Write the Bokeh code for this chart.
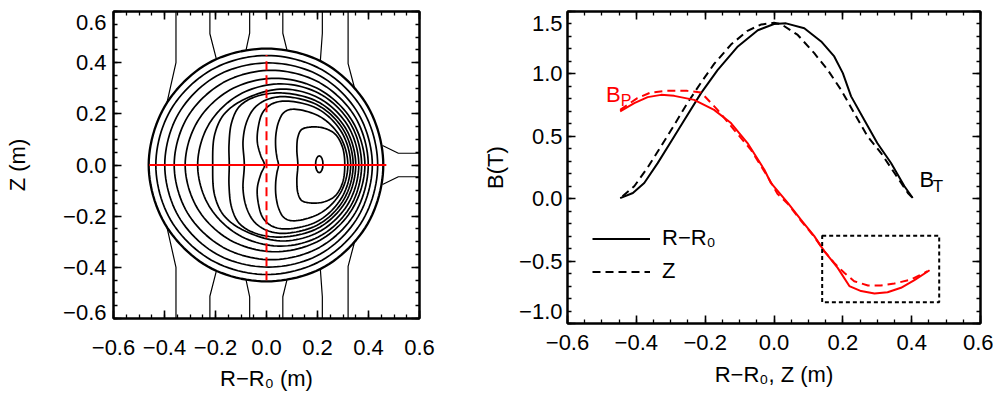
import numpy as np
from bokeh.plotting import figure
from bokeh.models import (LinearAxis, FixedTicker, Legend, LegendItem, CustomJSTickFormatter)
from bokeh.layouts import row
from bokeh.embed import file_html
from bokeh.resources import INLINE
from bokeh.core.properties import value

# ---------------- data: left panel (flux-surface contours, upper halves; mirrored in z) ----------------
contour_x = [
    [0.458, 0.397, 0.229, 0.0, -0.230, -0.399, -0.462],
    [0.436, 0.378, 0.218, 0.0, -0.216, -0.376, -0.434],
    [0.415, 0.360, 0.211, 0.008, -0.196, -0.345, -0.399],
    [0.399, 0.348, 0.208, 0.018, -0.170, -0.310, -0.362],
    [0.386, 0.337, 0.210, 0.034, -0.142, -0.270, -0.319],
    [0.373, 0.331, 0.215, 0.056, -0.107, -0.226, -0.270],
    [0.362, 0.322, 0.2135, 0.065, -0.080, -0.165, -0.203, -0.211],
    [0.350, 0.312, 0.209, 0.069, -0.040, -0.107, -0.137, -0.147, -0.146],
    [0.340, 0.304, 0.2065, 0.073, 0.0, -0.048, -0.078, -0.092, -0.087],
    [0.330, 0.296, 0.204, 0.078, 0.020, -0.015, -0.032, -0.036, -0.022, -0.008],
    [0.319, 0.290, 0.210, 0.101, 0.068, 0.048, 0.037, 0.036, 0.041, 0.047],
    [0.307, 0.298, 0.268, 0.222, 0.169, 0.137, 0.123, 0.119, 0.123],
]
contour_z = [
    [0.0, 0.229, 0.397, 0.455, 0.397, 0.229, 0.0],
    [0.0, 0.215, 0.372, 0.428, 0.372, 0.215, 0.0],
    [0.0, 0.201, 0.348, 0.399, 0.348, 0.201, 0.0],
    [0.0, 0.187, 0.322, 0.370, 0.322, 0.187, 0.0],
    [0.0, 0.171, 0.294, 0.339, 0.294, 0.171, 0.0],
    [0.0, 0.159, 0.275, 0.317, 0.275, 0.159, 0.0],
    [0.0, 0.1485, 0.257, 0.297, 0.260, 0.200, 0.120, 0.0],
    [0.0, 0.1405, 0.243, 0.281, 0.268, 0.228, 0.165, 0.080, 0.0],
    [0.0, 0.1335, 0.231, 0.267, 0.255, 0.222, 0.168, 0.095, 0.0],
    [0.0, 0.126, 0.218, 0.250, 0.238, 0.205, 0.150, 0.090, 0.035, 0.0],
    [0.0, 0.109, 0.189, 0.218, 0.205, 0.170, 0.120, 0.070, 0.030, 0.0],
    [0.0, 0.070, 0.122, 0.145, 0.148, 0.138, 0.109, 0.060, 0.0],
]
# magnetic axis (innermost small closed contour)
axis_x, axis_z, axis_w, axis_h = [0.207], [0.003], [0.029], [0.066]

# open field lines outside the plasma (upper halves; mirrored in z)
open_x = [
    [-0.355, -0.355, -0.390],
    [-0.222, -0.222, -0.196],
    [-0.066, -0.066, -0.080],
    [0.064, 0.064, 0.080],
    [0.219, 0.219, 0.211],
    [0.320, 0.320, 0.346],
    [0.455, 0.517, 0.600],
]
open_z = [
    [0.60, 0.400, 0.245],
    [0.60, 0.513, 0.412],
    [0.60, 0.515, 0.450],
    [0.60, 0.515, 0.450],
    [0.60, 0.515, 0.405],
    [0.60, 0.396, 0.298],
    [0.076, 0.046, 0.046],
]

# red chords
chord_r = [-0.46, 0.47]
chord_z = [-0.45, 0.43]

# ---------------- data: right panel ----------------
bt_r_x = [-0.447, -0.41, -0.377, -0.338, -0.299, -0.26, -0.212, -0.164, -0.105, -0.047, 0.0, 0.035,
          0.088, 0.137, 0.175, 0.20, 0.224, 0.262, 0.30, 0.34, 0.379, 0.403]
bt_r_y = [0.005, 0.046, 0.126, 0.285, 0.459, 0.632, 0.846, 1.03, 1.22, 1.35, 1.40, 1.405,
          1.366, 1.26, 1.14, 1.006, 0.82, 0.632, 0.446, 0.286, 0.10, 0.006]

bt_z_x = [-0.44, -0.406, -0.367, -0.328, -0.29, -0.252, -0.212, -0.174, -0.125, -0.077, -0.038, 0.0,
          0.02, 0.069, 0.117, 0.156, 0.195, 0.233, 0.272, 0.311, 0.35, 0.389, 0.408]
bt_z_y = [0.019, 0.10, 0.25, 0.42, 0.59, 0.765, 0.93, 1.08, 1.235, 1.345, 1.395, 1.41,
          1.40, 1.312, 1.166, 1.032, 0.872, 0.686, 0.499, 0.366, 0.206, 0.046, -0.008]

bp_r_x = [-0.447, -0.406, -0.367, -0.328, -0.29, -0.232, -0.174, -0.125, -0.077, -0.028, -0.009, 0.04,
          0.078, 0.117, 0.146, 0.185, 0.219, 0.253, 0.292, 0.33, 0.369, 0.408, 0.452]
bp_r_y = [0.70, 0.766, 0.814, 0.832, 0.824, 0.792, 0.712, 0.606, 0.446, 0.232, 0.126, -0.034,
          -0.168, -0.30, -0.42, -0.554, -0.70, -0.74, -0.76, -0.749, -0.714, -0.653, -0.573]

bp_z_x = [-0.447, -0.397, -0.358, -0.31, -0.252, -0.212, -0.164, -0.116, -0.067, -0.019, 0.01, 0.04,
          0.078, 0.117, 0.146, 0.175, 0.204, 0.233, 0.273, 0.311, 0.35, 0.398, 0.446]
bp_z_y = [0.712, 0.806, 0.851, 0.864, 0.864, 0.851, 0.712, 0.552, 0.392, 0.179, 0.04, -0.04,
          -0.175, -0.305, -0.42, -0.514, -0.594, -0.661, -0.696, -0.696, -0.68, -0.648, -0.581]

# highlighted region (dotted box)
box_x = [0.14, 0.48]
box_y = [-0.83, -0.296]

# tick values / labels
lx_ticks = [-0.6, -0.4, -0.2, 0.0, 0.2, 0.4, 0.6]
lx_labels = ["\u22120.6", "\u22120.4", "\u22120.2", "0.0", "0.2", "0.4", "0.6"]
ly_ticks = [-0.6, -0.4, -0.2, 0.0, 0.2, 0.4, 0.6]
ly_labels = ["\u22120.6", "\u22120.4", "\u22120.2", "0.0", "0.2", "0.4", "0.6"]
rx_ticks = [-0.6, -0.4, -0.2, 0.0, 0.2, 0.4, 0.6]
rx_labels = ["\u22120.6", "\u22120.4", "\u22120.2", "0.0", "0.2", "0.4", "0.6"]
ry_ticks = [-1.0, -0.5, 0.0, 0.5, 1.0, 1.5]
ry_labels = ["\u22121.0", "\u22120.5", "0.0", "0.5", "1.0", "1.5"]

# where the y tick labels sit (the end labels are nudged inside the frame, as in the original)
ly_label_pos = [-0.5765, -0.4, -0.2, 0.0, 0.2, 0.4, 0.557]
ry_label_pos = [-0.904, -0.5, 0.0, 0.5, 1.0, 1.404]

FONT = "Liberation Sans"
FS = "22px"


def smooth_closed(xs, zs, n=12):
    """centripetal Catmull-Rom through the closed (mirrored) control polygon"""
    up = list(zip(xs, zs))
    lo = [(x, -z) for (x, z) in reversed(up[1:-1])]
    P = np.array(up + lo, dtype=float)
    N = len(P)
    out = []
    for i in range(N):
        p0, p1, p2, p3 = P[(i - 1) % N], P[i], P[(i + 1) % N], P[(i + 2) % N]

        def tj(ti, a, b):
            return ti + max(np.hypot(*(b - a)), 1e-9) ** 0.5
        t0 = 0.0
        t1 = tj(t0, p0, p1)
        t2 = tj(t1, p1, p2)
        t3 = tj(t2, p2, p3)
        ts = np.linspace(t1, t2, n, endpoint=False)[:, None]
        A1 = (t1 - ts) / (t1 - t0) * p0 + (ts - t0) / (t1 - t0) * p1
        A2 = (t2 - ts) / (t2 - t1) * p1 + (ts - t1) / (t2 - t1) * p2
        A3 = (t3 - ts) / (t3 - t2) * p2 + (ts - t2) / (t3 - t2) * p3
        B1 = (t2 - ts) / (t2 - t0) * A1 + (ts - t0) / (t2 - t0) * A2
        B2 = (t3 - ts) / (t3 - t1) * A2 + (ts - t1) / (t3 - t1) * A3
        C = (t2 - ts) / (t2 - t1) * B1 + (ts - t1) / (t2 - t1) * B2
        out.extend(C.tolist())
    out.append(out[0])
    arr = np.array(out)
    return arr[:, 0].tolist(), arr[:, 1].tolist()


def tick_formatter(ticks, labels):
    return CustomJSTickFormatter(args=dict(tv=ticks, tl=labels), code="""
        for (let i = 0; i < tv.length; i++) { if (Math.abs(tv[i] - tick) < 1e-6) return tl[i]; }
        return "";
    """)


def blank_formatter():
    return CustomJSTickFormatter(code="return '';")


def style_axis(ax, ticks, minor, labels=None, label_standoff=5):
    ax.ticker = FixedTicker(ticks=ticks, minor_ticks=minor)
    ax.major_tick_in = 8
    ax.major_tick_out = 0
    ax.minor_tick_in = 4
    ax.minor_tick_out = 0
    ax.axis_line_width = 2
    ax.axis_line_color = "black"
    ax.major_tick_line_width = 1.6
    ax.minor_tick_line_width = 1.3
    ax.major_tick_line_color = "black"
    ax.minor_tick_line_color = "black"
    if labels is None:
        ax.formatter = blank_formatter()
        ax.major_label_text_color = None
        ax.major_label_standoff = 0
    else:
        ax.formatter = tick_formatter(ticks, labels)
        ax.major_label_text_font = FONT
        ax.major_label_text_font_size = FS
        ax.major_label_text_color = "black"
        ax.major_label_standoff = label_standoff
    ax.axis_label_text_font = FONT
    ax.axis_label_text_font_size = FS
    ax.axis_label_text_font_style = "normal"
    ax.axis_label_text_color = "black"


def label_only_axis(pos, labels, standoff, title, title_standoff):
    ax = LinearAxis(ticker=FixedTicker(ticks=pos), formatter=tick_formatter(pos, labels))
    ax.axis_line_color = None
    ax.major_tick_line_color = None
    ax.minor_tick_line_color = None
    ax.major_tick_in = 0
    ax.major_tick_out = 0
    ax.minor_tick_in = 0
    ax.minor_tick_out = 0
    ax.major_label_text_font = FONT
    ax.major_label_text_font_size = FS
    ax.major_label_text_color = "black"
    ax.major_label_standoff = standoff
    ax.axis_label = title
    ax.axis_label_standoff = title_standoff
    ax.axis_label_text_font = FONT
    ax.axis_label_text_font_size = FS
    ax.axis_label_text_font_style = "normal"
    ax.axis_label_text_color = "black"
    return ax


def minor_list(lo, hi, step):
    k = int(round((hi - lo) / step))
    return [round(lo + step * i, 4) for i in range(k + 1)]


# ---------------- left panel ----------------
p1 = figure(frame_width=306, frame_height=307, x_range=(-0.6, 0.6), y_range=(-0.6, 0.6),
            output_backend="svg", toolbar_location=None, y_axis_location=None,
            min_border_left=113, min_border_right=51, min_border_top=11, min_border_bottom=75)
p1.grid.visible = False
p1.outline_line_color = "black"
p1.outline_line_width = 2
p1.background_fill_color = "white"
p1.border_fill_color = "white"

style_axis(p1.xaxis[0], lx_ticks, minor_list(-0.6, 0.6, 0.05), lx_labels, 21)
p1.xaxis[0].axis_label = "R\u2212R\u2080 (m)"
p1.xaxis[0].axis_label_standoff = 8

ax_l = LinearAxis()
style_axis(ax_l, ly_ticks, minor_list(-0.6, 0.6, 0.05))
p1.add_layout(ax_l, "left")
p1.add_layout(label_only_axis(ly_label_pos, ly_labels, 7, "Z (m)", 30), "left")

ax_r = LinearAxis()
style_axis(ax_r, ly_ticks, minor_list(-0.6, 0.6, 0.05))
p1.add_layout(ax_r, "right")
ax_t = LinearAxis()
style_axis(ax_t, lx_ticks, minor_list(-0.6, 0.6, 0.05))
p1.add_layout(ax_t, "above")

# open field lines (upper and mirrored lower)
ox = [list(a) for a in open_x] + [list(a) for a in open_x]
oz = [list(a) for a in open_z] + [[-v for v in a] for a in open_z]
p1.multi_line(ox, oz, line_color="black", line_width=1.2)

# closed flux surfaces
cxs, czs = [], []
for xs, zs in zip(contour_x, contour_z):
    sx, sz = smooth_closed(xs, zs)
    cxs.append(sx)
    czs.append(sz)
p1.multi_line(cxs[1:], czs[1:], line_color="black", line_width=1.7)
p1.line(cxs[0], czs[0], line_color="black", line_width=2.3)
p1.ellipse(x=axis_x, y=axis_z, width=axis_w, height=axis_h, fill_alpha=0,
           line_color="black", line_width=1.7)

# chords
p1.line(chord_r, [0, 0], line_color="red", line_width=2)
p1.line([0, 0], chord_z, line_color="red", line_width=2, line_dash="9 5")

# ---------------- right panel ----------------
p2 = figure(frame_width=413, frame_height=312, x_range=(-0.6, 0.6), y_range=(-1.0, 1.5),
            output_backend="svg", toolbar_location=None, y_axis_location=None,
            min_border_left=97, min_border_right=13, min_border_top=8, min_border_bottom=73)
p2.grid.visible = False
p2.outline_line_color = "black"
p2.outline_line_width = 2
p2.background_fill_color = "white"
p2.border_fill_color = "white"

style_axis(p2.xaxis[0], rx_ticks, minor_list(-0.6, 0.6, 0.05), rx_labels, 11)
p2.xaxis[0].axis_label = "R\u2212R\u2080, Z (m)"
p2.xaxis[0].axis_label_standoff = 9

ax_l2 = LinearAxis()
style_axis(ax_l2, ry_ticks, minor_list(-1.0, 1.5, 0.1))
p2.add_layout(ax_l2, "left")
p2.add_layout(label_only_axis(ry_label_pos, ry_labels, 5, "B(T)", 8), "left")

ax_r2 = LinearAxis()
style_axis(ax_r2, ry_ticks, minor_list(-1.0, 1.5, 0.1))
p2.add_layout(ax_r2, "right")
ax_t2 = LinearAxis()
style_axis(ax_t2, rx_ticks, minor_list(-0.6, 0.6, 0.05))
p2.add_layout(ax_t2, "above")

r_bt_r = p2.line(bt_r_x, bt_r_y, line_color="black", line_width=2)
r_bt_z = p2.line(bt_z_x, bt_z_y, line_color="black", line_width=2, line_dash="8 5")
p2.line(bp_r_x, bp_r_y, line_color="red", line_width=2)
p2.line(bp_z_x, bp_z_y, line_color="red", line_width=2, line_dash="8 5")

p2.quad(left=[box_x[0]], right=[box_x[1]], bottom=[box_y[0]], top=[box_y[1]],
        fill_alpha=0, line_color="black", line_width=2, line_dash="4 3")

# curve labels B_P and B_T
p2.text(x=[-0.488], y=[0.838], text=["B"], text_color="red", text_font=value(FONT),
        text_font_size=value("22px"), text_baseline="alphabetic", text_align="left")
p2.text(x=[-0.445], y=[0.79], text=["P"], text_color="red", text_font=value(FONT),
        text_font_size=value("16px"), text_baseline="alphabetic", text_align="left")
p2.text(x=[0.4225], y=[0.152], text=["B"], text_color="black", text_font=value(FONT),
        text_font_size=value("22px"), text_baseline="alphabetic", text_align="left")
p2.text(x=[0.461], y=[0.095], text=["T"], text_color="black", text_font=value(FONT),
        text_font_size=value("17px"), text_baseline="alphabetic", text_align="left")

legend = Legend(items=[LegendItem(label="R\u2212R\u2080", renderers=[r_bt_r]),
                       LegendItem(label="Z", renderers=[r_bt_z])],
                location=(25, 39), orientation="vertical")
legend.border_line_alpha = 0
legend.background_fill_alpha = 0
legend.padding = 0
legend.margin = 0
legend.spacing = 7
legend.glyph_width = 58
legend.glyph_height = 25
legend.label_height = 25
legend.label_standoff = 12
legend.label_text_font = FONT
legend.label_text_font_size = FS
legend.label_text_color = "black"
p2.add_layout(legend)

layout = row(p1, p2)
open("out.html", "w").write(file_html(layout, INLINE))
